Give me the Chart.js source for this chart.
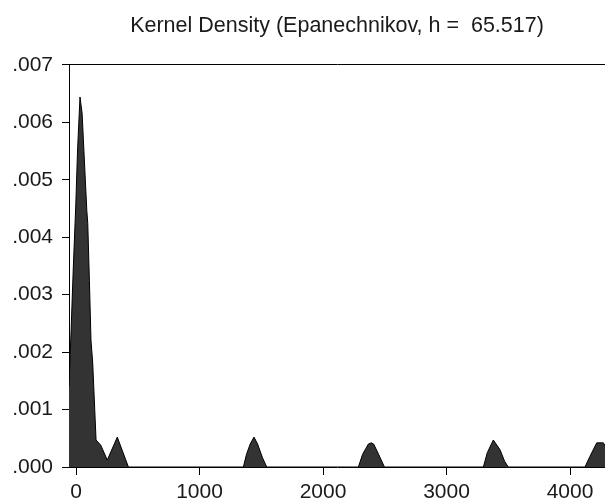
<!DOCTYPE html>
<html>
<head>
<meta charset="utf-8">
<script src="https://cdn.jsdelivr.net/npm/chart.js@4.4.1/dist/chart.umd.min.js"></script>
<style>
  html, body { margin: 0; padding: 0; background: #fff; }
  #wrap { width: 605px; height: 503px; }
</style>
</head>
<body>
<div id="wrap"><canvas id="c"></canvas></div>
<script>
// Values
const xValues = [-57, -40, -22, -2, 12, 32, 49, 87, 95, 108, 121, 135, 162, 200, 253, 334, 424,
  1355, 1380, 1410, 1441, 1470, 1510, 1544,
  2286, 2320, 2367, 2390, 2410, 2450, 2497,
  3298, 3330, 3379, 3433, 3470, 3500,
  4121, 4160, 4216, 4270, 4300];
const density = [0.0014, 0.00238, 0.00348, 0.00456, 0.0055, 0.00644, 0.00616, 0.00447, 0.00424, 0.00325, 0.00221, 0.00181, 0.00047, 0.00038, 0.00012, 0.00052, 0.0,
  0.0, 0.00022, 0.00040, 0.00052, 0.00040, 0.00016, 0.0,
  0.0, 0.00022, 0.00040, 0.00042, 0.00040, 0.00022, 0.0,
  0.0, 0.00025, 0.00047, 0.00030, 0.00010, 0.0,
  0.0, 0.00018, 0.00042, 0.00042, 0.00030];
const xTickValues = [0, 1000, 2000, 3000, 4000];
const yTickValues = [0, 0.001, 0.002, 0.003, 0.004, 0.005, 0.006, 0.007];
const titleText = 'Kernel Density (Epanechnikov, h =  65.517)';

const points = xValues.map((x, i) => ({ x: x, y: density[i] }));
const FONT = "'Liberation Sans', Arial, sans-serif";

new Chart(document.getElementById('c'), {
  type: 'line',
  data: {
    datasets: [{
      data: points,
      borderColor: '#000',
      borderWidth: 1,
      backgroundColor: '#333333',
      fill: 'origin',
      pointRadius: 0,
      tension: 0
    }]
  },
  options: {
    responsive: true,
    maintainAspectRatio: false,
    animation: false,
    events: [],
    layout: { padding: { left: 0, right: 0, top: 0, bottom: 0 } },
    plugins: {
      legend: { display: false },
      tooltip: { enabled: false },
      title: {
        display: true,
        text: titleText,
        fullSize: false,
        color: '#1a1a1a',
        font: { family: FONT, size: 21.5, weight: 'normal' },
        padding: { top: 13, bottom: 26 }
      }
    },
    scales: {
      x: {
        type: 'linear',
        min: -57,
        max: 4283,
        afterBuildTicks: s => { s.ticks = xTickValues.map(v => ({ value: v })); },
        afterFit: s => { s.height = 36; },
        ticks: {
          color: '#1a1a1a',
          font: { family: FONT, size: 21 },
          padding: 5,
          maxRotation: 0,
          autoSkip: false,
          callback: v => String(v)
        },
        grid: { drawOnChartArea: false, drawTicks: true, tickLength: 8, color: '#000' },
        border: { color: '#000', width: 1 }
      },
      x2: {
        type: 'linear',
        position: 'top',
        min: -57,
        max: 4283,
        ticks: { display: false },
        grid: { display: false, drawTicks: false },
        border: { color: '#000', width: 1 },
        afterFit: s => { s.height = 0; }
      },
      y: {
        min: 0,
        max: 0.007,
        afterBuildTicks: s => { s.ticks = yTickValues.map(v => ({ value: v })); },
        afterFit: s => { s.width = 69; },
        ticks: {
          color: '#1a1a1a',
          font: { family: FONT, size: 21 },
          padding: 9,
          callback: v => v.toFixed(3).replace(/^0/, '')
        },
        grid: { drawOnChartArea: false, drawTicks: true, tickLength: 7, color: '#000' },
        border: { color: '#000', width: 1 }
      }
    }
  }
});
</script>
</body>
</html>
